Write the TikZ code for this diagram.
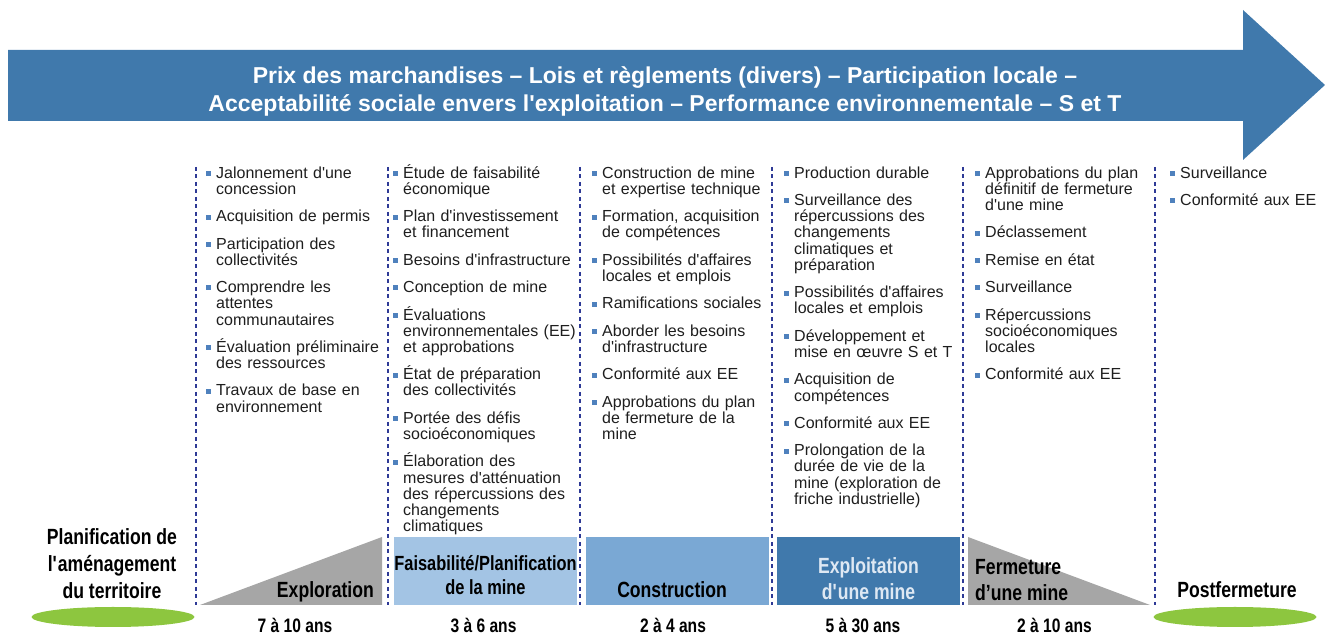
\documentclass[tikz,border=0pt]{standalone}
\usepackage{fontspec}
\usepackage{tikz}
\usetikzlibrary{positioning,shapes.geometric}

\setmainfont{Liberation Sans}
\newfontfamily\condfont{Liberation Sans}[FakeStretch=0.8]

\definecolor{bandeau}{RGB}{64,121,172}
\definecolor{pointille}{RGB}{46,58,150}
\definecolor{bleupuce}{RGB}{79,129,189}
\definecolor{gristri}{RGB}{166,166,166}
\definecolor{faisab}{RGB}{163,196,228}
\definecolor{constr}{RGB}{122,168,212}
\definecolor{exploit}{RGB}{64,121,172}
\definecolor{exploittxt}{RGB}{222,232,243}
\definecolor{vert}{RGB}{141,198,63}
\definecolor{texte}{RGB}{30,30,30}

% apostrophe droite
\newcommand{\ap}{\XeTeXglyph\XeTeXcharglyph"27\relax}
\newcommand{\fontpuce}{\fontsize{16}{16.2}\selectfont\lineskiplimit=-20pt}
\newcommand{\fontphase}{\condfont\bfseries\fontsize{22}{27}\selectfont}
\newcommand{\fontduree}{\condfont\bfseries\fontsize{19.5}{20}\selectfont}
\newcommand{\fontbandeau}{\bfseries\fontsize{23}{28}\selectfont}

\begin{document}
\begin{tikzpicture}[x=1pt,y=1pt,
    puce/.style={anchor=north west,text width=175pt,align=left,inner sep=0pt,font=\fontpuce,text=texte,
                 execute at begin node={\noindent\rule{0pt}{15pt}},execute at end node=\strut},
    suite/.style={puce,below=7.1pt of #1.south west,anchor=north west},
    phase/.style={inner sep=0pt,font=\fontphase,align=center,execute at begin node=\strut},
    barre/.style={draw=none,minimum width=183pt,minimum height=68pt,inner sep=0pt},
    duree/.style={anchor=base,inner sep=0pt,font=\fontduree},
    ovale/.style={ellipse,fill=vert,minimum width=163pt,minimum height=20pt,inner sep=0pt},
    trait/.style={draw=pointille,line width=1.8pt,dash pattern=on 4pt off 3.5pt}]

  \useasboundingbox (0,0) rectangle (1325,636);

  % bandeau du haut
  \fill[bandeau] (8,515) -- (1243,515) -- (1243,476) -- (1325,551)
                 -- (1243,626) -- (1243,586) -- (8,586) -- cycle;
  \node[inner sep=0pt,anchor=north,align=center,text=white,font=\fontbandeau,
        execute at begin node=\strut] (facteurs) at (665,569.6)
    {Prix des marchandises – Lois et règlements (divers) – Participation locale –\\
     Acceptabilité sociale envers l\ap exploitation – Performance environnementale – S et T};

  % separations
  \foreach \x in {196,388,580,772,963,1155}
    \draw[trait] (\x,469) -- (\x,31);

  % exploration
  \node[puce] (a1) at (216,473) {Jalonnement d\ap une\\concession};
  \node[suite=a1] (a2) {Acquisition de permis};
  \node[suite=a2] (a3) {Participation des\\collectivités};
  \node[suite=a3] (a4) {Comprendre les\\attentes\\communautaires};
  \node[suite=a4] (a5) {Évaluation préliminaire\\des ressources};
  \node[suite=a5] (a6) {Travaux de base en\\environnement};

  % faisabilite
  \node[puce] (b1) at (403,473) {Étude de faisabilité\\économique};
  \node[suite=b1] (b2) {Plan d\ap investissement\\et financement};
  \node[suite=b2] (b3) {Besoins d\ap infrastructure};
  \node[suite=b3] (b4) {Conception de mine};
  \node[suite=b4] (b5) {Évaluations\\environnementales (EE)\\et approbations};
  \node[suite=b5] (b6) {État de préparation\\des collectivités};
  \node[suite=b6] (b7) {Portée des défis\\socioéconomiques};
  \node[suite=b7] (b8) {Élaboration des\\mesures d\ap atténuation\\des répercussions des\\changements\\climatiques};

  % construction
  \node[puce] (c1) at (602,473) {Construction de mine\\et expertise technique};
  \node[suite=c1] (c2) {Formation, acquisition\\de compétences};
  \node[suite=c2] (c3) {Possibilités d\ap affaires\\locales et emplois};
  \node[suite=c3] (c4) {Ramifications sociales};
  \node[suite=c4] (c5) {Aborder les besoins\\d\ap infrastructure};
  \node[suite=c5] (c6) {Conformité aux EE};
  \node[suite=c6] (c7) {Approbations du plan\\de fermeture de la\\mine};

  % exploitation
  \node[puce] (d1) at (794,473) {Production durable};
  \node[suite=d1] (d2) {Surveillance des\\répercussions des\\changements\\climatiques et\\préparation};
  \node[suite=d2] (d3) {Possibilités d\ap affaires\\locales et emplois};
  \node[suite=d3] (d4) {Développement et\\mise en œuvre S et T};
  \node[suite=d4] (d5) {Acquisition de\\compétences};
  \node[suite=d5] (d6) {Conformité aux EE};
  \node[suite=d6] (d7) {Prolongation de la\\durée de vie de la\\mine (exploration de\\friche industrielle)};

  % fermeture
  \node[puce] (e1) at (985,473) {Approbations du plan\\définitif de fermeture\\d\ap une mine};
  \node[suite=e1] (e2) {Déclassement};
  \node[suite=e2] (e3) {Remise en état};
  \node[suite=e3] (e4) {Surveillance};
  \node[suite=e4] (e5) {Répercussions\\socioéconomiques\\locales};
  \node[suite=e5] (e6) {Conformité aux EE};

  % postfermeture
  \node[puce] (f1) at (1180,473) {Surveillance};
  \node[suite=f1] (f2) {Conformité aux EE};

  \foreach \n in {a1,a2,a3,a4,a5,a6,b1,b2,b3,b4,b5,b6,b7,b8,c1,c2,c3,c4,c5,c6,c7,
                  d1,d2,d3,d4,d5,d6,d7,e1,e2,e3,e4,e5,e6,f1,f2}
    \fill[bleupuce] ([xshift=-10.5pt,yshift=-8pt]\n.north west) rectangle ++(5,-5);

  % barre des phases
  \fill[gristri] (200,31) -- (382,31) -- (382,99) -- cycle;
  \node[barre,fill=faisab] (pfaisab) at (485.5,65) {};
  \node[barre,fill=constr] (pconstr) at (677.5,65) {};
  \node[barre,fill=exploit] (pexploit) at (868.5,65) {};
  \fill[gristri] (968,99) -- (968,31) -- (1150,31) -- cycle;

  \node[ovale] (odebut) at (113,19) {};
  \node[ovale] (ofin) at (1235,19) {};

  \node[phase,anchor=north] (amenag) at (112,107.9) {Planification de\\l\ap aménagement\\du territoire};
  \node[phase,anchor=base east] (explo) at (374,38.5) {Exploration};
  \node[phase,anchor=north,font=\condfont\bfseries\fontsize{20.5}{24}\selectfont]
    (faisa) at (485.5,80.3) {Faisabilité/Planification\\de la mine};
  \node[phase,anchor=base] (constru) at (672,38) {Construction};
  \node[phase,anchor=north,text=exploittxt,font=\condfont\bfseries\fontsize{22}{26}\selectfont]
    (exploita) at (868.5,78.2) {Exploitation\\d\ap une mine};
  \node[phase,anchor=north west,align=left,font=\condfont\bfseries\fontsize{22}{26}\selectfont]
    (ferm) at (975,77.2) {Fermeture\\d’une mine};
  \node[phase,anchor=base] (postf) at (1237,38.5) {Postfermeture};

  % durees
  \node[duree] (d710) at (295,3) {7 à 10 ans};
  \node[duree] (d36) at (483.5,3) {3 à 6 ans};
  \node[duree] (d24) at (673,3) {2 à 4 ans};
  \node[duree] (d530) at (863,3) {5 à 30 ans};
  \node[duree] (d210) at (1054.5,3) {2 à 10 ans};

\end{tikzpicture}
\end{document}
